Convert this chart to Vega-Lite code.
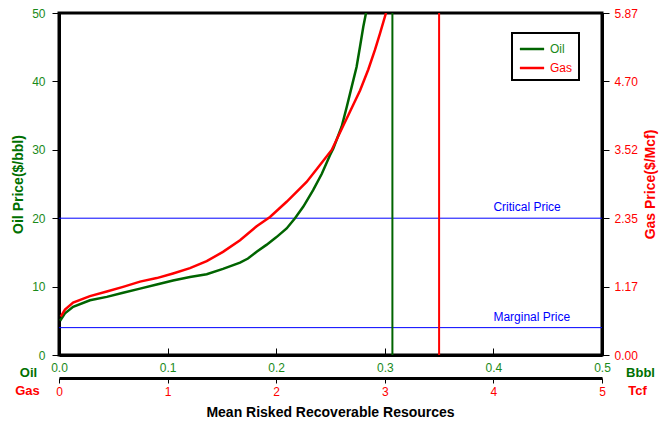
{
  "$schema": "https://vega.github.io/schema/vega-lite/v6.json",
  "width": 543,
  "height": 342,
  "autosize": {"type": "none"},
  "padding": {"left": 59, "top": 13, "right": 61, "bottom": 75},
  "background": "white",
  "title": {"text": "Mean Risked Recoverable Resources", "orient": "bottom", "anchor": "middle", "fontSize": 14, "fontWeight": "bold", "font": "Liberation Sans", "color": "black", "offset": 9},
  "config": {
    "font": "Liberation Sans",
    "view": {"stroke": "black", "strokeWidth": 3},
    "axis": {"grid": false, "domainColor": "black", "domainWidth": 3, "tickColor": "black", "tickWidth": 1, "labelFont": "Liberation Sans", "labelFontSize": 12, "titleFont": "Liberation Sans", "titleFontSize": 14, "titleFontWeight": "bold", "labelFontWeight": "normal"},
    "legend": {"strokeWidth": 2}
  },
  "datasets": {
    "oil": [
      {"series": "Oil", "q": 0.001, "p": 5.0},
      {"series": "Oil", "q": 0.0055, "p": 6.1},
      {"series": "Oil", "q": 0.013, "p": 7.05},
      {"series": "Oil", "q": 0.0285, "p": 8.0},
      {"series": "Oil", "q": 0.044, "p": 8.5},
      {"series": "Oil", "q": 0.059, "p": 9.1},
      {"series": "Oil", "q": 0.0746, "p": 9.7},
      {"series": "Oil", "q": 0.09, "p": 10.3},
      {"series": "Oil", "q": 0.105, "p": 10.9},
      {"series": "Oil", "q": 0.1206, "p": 11.4},
      {"series": "Oil", "q": 0.136, "p": 11.8},
      {"series": "Oil", "q": 0.151, "p": 12.6},
      {"series": "Oil", "q": 0.1667, "p": 13.5},
      {"series": "Oil", "q": 0.174, "p": 14.1},
      {"series": "Oil", "q": 0.182, "p": 15.1},
      {"series": "Oil", "q": 0.191, "p": 16.1},
      {"series": "Oil", "q": 0.2, "p": 17.2},
      {"series": "Oil", "q": 0.2096, "p": 18.5},
      {"series": "Oil", "q": 0.2173, "p": 20.0},
      {"series": "Oil", "q": 0.225, "p": 21.7},
      {"series": "Oil", "q": 0.234, "p": 24.1},
      {"series": "Oil", "q": 0.242, "p": 26.5},
      {"series": "Oil", "q": 0.2495, "p": 29.2},
      {"series": "Oil", "q": 0.2526, "p": 30.2},
      {"series": "Oil", "q": 0.2603, "p": 33.4},
      {"series": "Oil", "q": 0.265, "p": 36.3},
      {"series": "Oil", "q": 0.2695, "p": 39.2},
      {"series": "Oil", "q": 0.274, "p": 42.1},
      {"series": "Oil", "q": 0.2772, "p": 45.1},
      {"series": "Oil", "q": 0.2802, "p": 48.0},
      {"series": "Oil", "q": 0.2827, "p": 50.0}
    ],
    "gas": [
      {"series": "Gas", "q": 0.016, "p": 0.66},
      {"series": "Gas", "q": 0.055, "p": 0.78},
      {"series": "Gas", "q": 0.13, "p": 0.9},
      {"series": "Gas", "q": 0.285, "p": 1.01},
      {"series": "Gas", "q": 0.44, "p": 1.09},
      {"series": "Gas", "q": 0.59, "p": 1.17},
      {"series": "Gas", "q": 0.746, "p": 1.26},
      {"series": "Gas", "q": 0.9, "p": 1.32},
      {"series": "Gas", "q": 1.05, "p": 1.4},
      {"series": "Gas", "q": 1.206, "p": 1.49},
      {"series": "Gas", "q": 1.36, "p": 1.61},
      {"series": "Gas", "q": 1.51, "p": 1.77},
      {"series": "Gas", "q": 1.667, "p": 1.97},
      {"series": "Gas", "q": 1.82, "p": 2.21},
      {"series": "Gas", "q": 1.943, "p": 2.37},
      {"series": "Gas", "q": 2.096, "p": 2.63},
      {"series": "Gas", "q": 2.28, "p": 2.97},
      {"series": "Gas", "q": 2.403, "p": 3.26},
      {"series": "Gas", "q": 2.511, "p": 3.52},
      {"series": "Gas", "q": 2.68, "p": 4.18},
      {"series": "Gas", "q": 2.772, "p": 4.54},
      {"series": "Gas", "q": 2.848, "p": 4.9},
      {"series": "Gas", "q": 2.91, "p": 5.24},
      {"series": "Gas", "q": 2.956, "p": 5.52},
      {"series": "Gas", "q": 3.011, "p": 5.87}
    ],
    "priceLines": [
      {"label": "Critical Price", "q": 0.4, "p": 20},
      {"label": "Marginal Price", "q": 0.4, "p": 4}
    ],
    "oilLimit": [{"q": 0.307}],
    "gasLimit": [{"q": 3.5}]
  },
  "layer": [
    {
      "layer": [
        {
          "data": {"name": "priceLines"},
          "mark": {"type": "rule", "color": "#0000ff", "strokeWidth": 1},
          "encoding": {
            "y": {"field": "p", "type": "quantitative"}
          }
        },
        {
          "data": {"name": "priceLines"},
          "mark": {"type": "text", "align": "left", "baseline": "bottom", "dy": -4, "color": "#0000ff", "fontSize": 12, "font": "Liberation Sans"},
          "encoding": {
            "x": {"field": "q", "type": "quantitative"},
            "y": {"field": "p", "type": "quantitative"},
            "text": {"field": "label"}
          }
        },
        {
          "data": {"name": "oil"},
          "mark": {"type": "line", "strokeWidth": 2.5, "clip": true},
          "encoding": {
            "x": {"field": "q", "type": "quantitative", "scale": {"domain": [0, 0.5], "nice": false},
              "axis": {"orient": "bottom", "values": [0, 0.1, 0.2, 0.3, 0.4, 0.5], "format": ".1f", "labelColor": "#1a8a1a", "tickSize": -7, "labelPadding": 14, "labelFlush": false, "title": "Oil", "titleColor": "#007000", "titleFontSize": 13, "titleX": -31, "titleY": 17, "titleAlign": "center", "titleBaseline": "middle", "titleAnchor": null}},
            "y": {"field": "p", "type": "quantitative", "scale": {"domain": [0, 50], "nice": false},
              "axis": {"orient": "left", "values": [0, 10, 20, 30, 40, 50], "labelColor": "#1a8a1a", "tickSize": 7, "labelPadding": 7, "title": "Oil Price($/bbl)", "titleColor": "#007000", "titlePadding": 6}},
            "color": {"field": "series", "type": "nominal", "scale": {"domain": ["Oil", "Gas"], "range": ["#006400", "#ff0000"]},
              "legend": {"orient": "none", "legendX": 453, "legendY": 20, "title": null, "symbolType": "M-1.4,0H1.4", "symbolStrokeWidth": 2.5, "symbolSize": 300, "symbolOffset": 4, "labelOffset": 8, "strokeColor": "black", "fillColor": "white", "padding": 6, "rowPadding": 3, "labelFontSize": 12, "labelFont": "Liberation Sans", "labelColor": {"expr": "datum.label == 'Oil' ? '#1a8a1a' : '#ff0000'"}}}
          }
        }
      ]
    },
    {
      "data": {"name": "gas"},
      "mark": {"type": "line", "strokeWidth": 2.5, "clip": true},
      "encoding": {
        "x": {"field": "q", "type": "quantitative", "scale": {"domain": [0, 5], "nice": false},
          "axis": {"orient": "bottom", "offset": 23, "values": [0, 1, 2, 3, 4, 5], "format": "d", "labelColor": "#ff0000", "tickSize": 5, "labelPadding": 3, "labelFlush": false, "title": "Gas", "titleColor": "#ff0000", "titleFontSize": 13, "titleX": -32, "titleY": 12, "titleAlign": "center", "titleBaseline": "middle", "titleAnchor": null}},
        "y": {"field": "p", "type": "quantitative", "scale": {"domain": [0, 5.87], "nice": false},
          "axis": {"orient": "right", "values": [0, 1.174, 2.348, 3.522, 4.696, 5.87], "format": ".2f", "labelColor": "#ff0000", "tickSize": 7, "labelPadding": 5, "title": "Gas Price($/Mcf)", "titleColor": "#ff0000", "titleAngle": 270, "titlePadding": 20}},
        "color": {"field": "series", "type": "nominal", "scale": {"domain": ["Oil", "Gas"], "range": ["#006400", "#ff0000"]},
          "legend": {"orient": "none", "legendX": 453, "legendY": 20, "title": null, "symbolType": "M-1.4,0H1.4", "symbolStrokeWidth": 2.5, "symbolSize": 300, "symbolOffset": 4, "labelOffset": 8, "strokeColor": "black", "fillColor": "white", "padding": 6, "rowPadding": 3, "labelFontSize": 12, "labelFont": "Liberation Sans", "labelColor": {"expr": "datum.label == 'Oil' ? '#1a8a1a' : '#ff0000'"}}}
      }
    },
    {
      "data": {"name": "oilLimit"},
      "mark": {"type": "rule", "color": "#006400", "strokeWidth": 2},
      "encoding": {
        "x": {"field": "q", "type": "quantitative", "scale": {"domain": [0, 0.5], "nice": false},
          "axis": {"orient": "bottom", "labels": false, "ticks": false, "domain": false, "title": "Bbbl", "titleColor": "#007000", "titleFontSize": 13, "titleX": 581, "titleY": 17, "titleAlign": "center", "titleBaseline": "middle", "titleAnchor": null}}
      }
    },
    {
      "data": {"name": "gasLimit"},
      "mark": {"type": "rule", "color": "#ff0000", "strokeWidth": 2},
      "encoding": {
        "x": {"field": "q", "type": "quantitative", "scale": {"domain": [0, 5], "nice": false},
          "axis": {"orient": "bottom", "offset": 23, "labels": false, "ticks": false, "domain": false, "title": "Tcf", "titleColor": "#ff0000", "titleFontSize": 13, "titleX": 578, "titleY": 12, "titleAlign": "center", "titleBaseline": "middle", "titleAnchor": null}}
      }
    }
  ],
  "resolve": {"scale": {"x": "independent", "y": "independent"}, "axis": {"x": "independent", "y": "independent"}}
}
